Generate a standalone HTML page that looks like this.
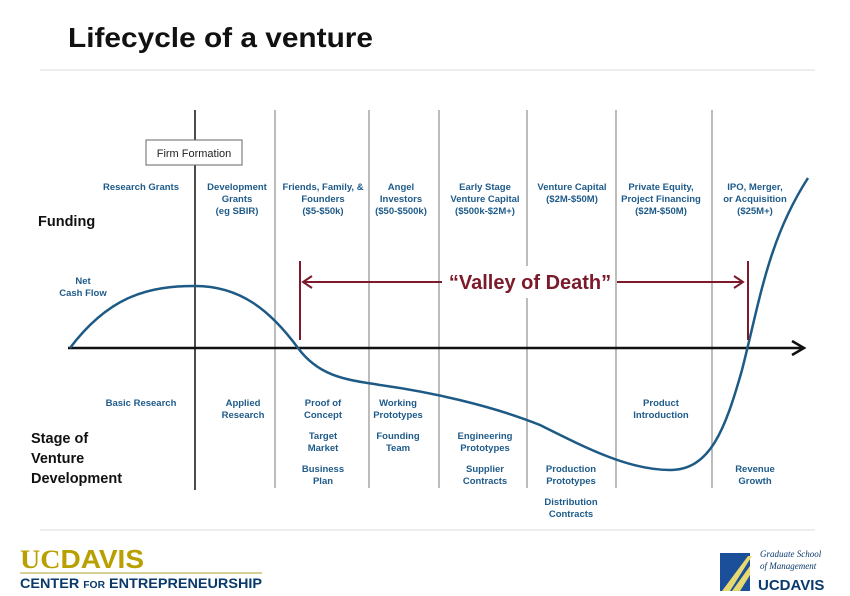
<!DOCTYPE html>
<html><head><meta charset="utf-8"><style>
body{margin:0;background:#fff;width:850px;height:591px;overflow:hidden;font-family:"Liberation Sans",sans-serif}
</style></head><body>
<svg width="850" height="591" xmlns="http://www.w3.org/2000/svg" font-family="Liberation Sans, sans-serif">
<text x="68" y="47" font-size="28" font-weight="bold" fill="#111" textLength="305" lengthAdjust="spacingAndGlyphs">Lifecycle of a venture</text>
<line x1="40" y1="70" x2="815" y2="70" stroke="#ddd" stroke-width="1"/>
<line x1="40" y1="530" x2="815" y2="530" stroke="#ddd" stroke-width="1"/>
<g stroke="#999" stroke-width="1.3">
<line x1="275" y1="110" x2="275" y2="488"/><line x1="369" y1="110" x2="369" y2="488"/>
<line x1="439" y1="110" x2="439" y2="488"/><line x1="527" y1="110" x2="527" y2="488"/>
<line x1="616" y1="110" x2="616" y2="488"/><line x1="712" y1="110" x2="712" y2="488"/>
</g>
<line x1="195" y1="110" x2="195" y2="490" stroke="#111" stroke-width="1.5"/>
<rect x="146" y="140" width="96" height="25" fill="#fff" stroke="#666"/>
<text x="194" y="157" font-size="11" text-anchor="middle" fill="#222">Firm Formation</text>
<line x1="68" y1="348" x2="802" y2="348" stroke="#111" stroke-width="2.5"/>
<path d="M792 341 L804 348 L792 355" fill="none" stroke="#111" stroke-width="2.5"/>
<path d="M70 348 C110 295 150 286 195 286 C240 286 270 310 298 348 C320 378 350 380 380 385 C430 392 490 405 540 425 C590 450 630 470 670 470 C710 470 725 430 742 370 C760 300 768 240 808 178" fill="none" stroke="#1d5a85" stroke-width="2.5"/>
<g stroke="#7a1a2a" stroke-width="2">
<line x1="300" y1="261" x2="300" y2="340"/><line x1="748" y1="261" x2="748" y2="340"/>
<line x1="303" y1="282" x2="442" y2="282"/><line x1="617" y1="282" x2="743" y2="282"/>
<path d="M312 276 L303 282 L312 288" fill="none"/><path d="M734 276 L743 282 L734 288" fill="none"/>
</g>
<rect x="445" y="266" width="170" height="32" fill="#fff"/>
<text x="530" y="289" font-size="20" font-weight="bold" fill="#7a1a2a" text-anchor="middle">“Valley of Death”</text>
<g font-size="9.5" font-weight="bold" fill="#1e5b8a" text-anchor="middle">
<text x="141" y="190">Research Grants</text>
<text x="237" y="190">Development</text><text x="237" y="202">Grants</text><text x="237" y="214">(eg SBIR)</text>
<text x="323" y="190">Friends, Family, &amp;</text><text x="323" y="202">Founders</text><text x="323" y="214">($5-$50k)</text>
<text x="401" y="190">Angel</text><text x="401" y="202">Investors</text><text x="401" y="214">($50-$500k)</text>
<text x="485" y="190">Early Stage</text><text x="485" y="202">Venture Capital</text><text x="485" y="214">($500k-$2M+)</text>
<text x="572" y="190">Venture Capital</text><text x="572" y="202">($2M-$50M)</text>
<text x="661" y="190">Private Equity,</text><text x="661" y="202">Project Financing</text><text x="661" y="214">($2M-$50M)</text>
<text x="755" y="190">IPO, Merger,</text><text x="755" y="202">or Acquisition</text><text x="755" y="214">($25M+)</text>
<text x="83" y="284">Net</text><text x="83" y="296">Cash Flow</text>
<text x="141" y="406">Basic Research</text>
<text x="243" y="406">Applied</text><text x="243" y="418">Research</text>
<text x="323" y="406">Proof of</text><text x="323" y="418">Concept</text>
<text x="323" y="439">Target</text><text x="323" y="451">Market</text>
<text x="323" y="472">Business</text><text x="323" y="484">Plan</text>
<text x="398" y="406">Working</text><text x="398" y="418">Prototypes</text>
<text x="398" y="439">Founding</text><text x="398" y="451">Team</text>
<text x="485" y="439">Engineering</text><text x="485" y="451">Prototypes</text>
<text x="485" y="472">Supplier</text><text x="485" y="484">Contracts</text>
<text x="571" y="472">Production</text><text x="571" y="484">Prototypes</text>
<text x="571" y="505">Distribution</text><text x="571" y="517">Contracts</text>
<text x="661" y="406">Product</text><text x="661" y="418">Introduction</text>
<text x="755" y="472">Revenue</text><text x="755" y="484">Growth</text>
</g>
<g font-size="14.5" font-weight="bold" fill="#111">
<text x="38" y="226">Funding</text>
<text x="31" y="443">Stage of</text><text x="31" y="463">Venture</text><text x="31" y="483">Development</text>
</g>
<text x="20" y="568" font-size="26" font-weight="bold" fill="#b8a000" font-family="Liberation Serif, serif" textLength="124" lengthAdjust="spacingAndGlyphs">UC<tspan font-family="Liberation Sans, sans-serif">DAVIS</tspan></text>
<line x1="20" y1="573" x2="262" y2="573" stroke="#c8c070" stroke-width="1.5"/>
<text x="20" y="588" font-size="14" font-weight="bold" fill="#0a3a6b" textLength="242" lengthAdjust="spacingAndGlyphs">CENTER <tspan font-size="10">FOR</tspan> ENTREPRENEURSHIP</text>
<polygon points="720,553 750,553 750,591 720,591" fill="#1b4f9a"/>
<polygon points="722,591 748,556 752,556 730,591" fill="#e8d870"/>
<polygon points="732,591 750,566 750,575 740,591" fill="#e8d870"/>
<text x="760" y="557" font-size="9" font-style="italic" fill="#0a3a6b" font-family="Liberation Serif, serif">Graduate School</text>
<text x="760" y="569" font-size="9" font-style="italic" fill="#0a3a6b" font-family="Liberation Serif, serif">of Management</text>
<text x="758" y="590" font-size="15" font-weight="bold" fill="#0a3a6b">UCDAVIS</text>
</svg>
</body></html>
